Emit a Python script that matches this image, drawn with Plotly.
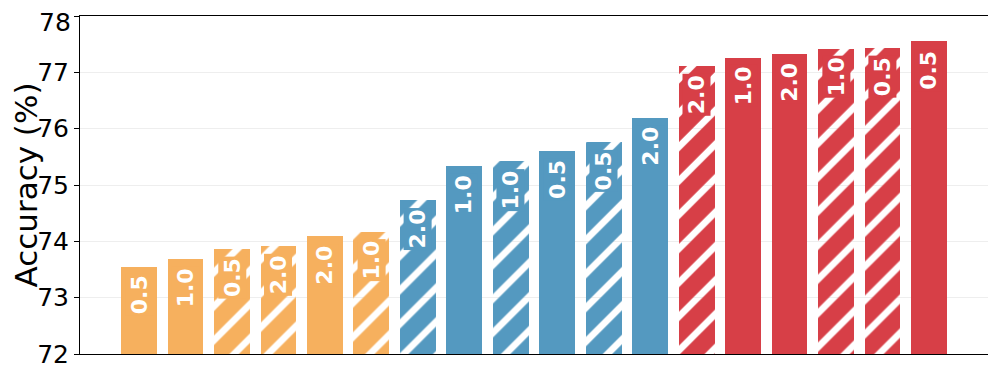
import plotly.graph_objects as go

# bar heights, left to right
accuracy = [73.55, 73.68, 73.87, 73.91, 74.09, 74.17,
            74.73, 75.33, 75.42, 75.60, 75.76, 76.19,
            77.11, 77.26, 77.33, 77.42, 77.43, 77.55]
labels = ["0.5", "1.0", "0.5", "2.0", "2.0", "1.0",
          "2.0", "1.0", "1.0", "0.5", "0.5", "2.0",
          "2.0", "1.0", "2.0", "1.0", "0.5", "0.5"]
hatched = [False, False, True, True, False, True,
           True, False, True, False, True, False,
           True, False, False, True, True, False]
group = ["a"] * 6 + ["b"] * 6 + ["c"] * 6
yticks = [72, 73, 74, 75, 76, 77, 78]

palette = {"a": "#F6B05E", "b": "#5499C0", "c": "#D73F47"}
colors = [palette[g] for g in group]
x = list(range(len(accuracy)))

fig = go.Figure()
# hatch: coloured diagonal bands on white leave thin white stripes
fig.add_trace(go.Bar(
    x=x, y=[a - 72 for a in accuracy], base=72,
    width=0.77,
    marker=dict(
        color=colors,
        line=dict(width=0),
        pattern=dict(
            shape=["/" if h else "" for h in hatched],
            fgcolor=colors, bgcolor="white",
            size=24, solidity=0.72, fillmode="replace",
        ),
    ),
    showlegend=False, hoverinfo="skip",
))

for xi, a, lab, c in zip(x, accuracy, labels, colors):
    fig.add_annotation(
        x=xi, y=a, text=f"<b>{lab}</b>", showarrow=False,
        textangle=-90, yanchor="top", yshift=-7,
        bgcolor=c, borderpad=1,
        font=dict(family="DejaVu Sans", size=22, color="white"),
    )

# top tick label drawn as annotation so it is not dropped at the page edge
fig.add_annotation(x=0, xref="paper", y=yticks[-1], yref="y", text=str(yticks[-1]),
                   showarrow=False, xanchor="right", xshift=-7, yshift=-6,
                   font=dict(family="DejaVu Sans", size=25, color="black"))

fig.update_xaxes(range=[-1.27, 18.27], showticklabels=False, ticks="",
                 showgrid=False, zeroline=False, automargin=False,
                 showline=True, linecolor="black", linewidth=1, mirror=True)
fig.update_yaxes(range=[72, 78], tickvals=yticks,
                 ticktext=[str(t) for t in yticks[:-1]] + [""],
                 ticks="outside", ticklen=5,
                 tickcolor="black", showgrid=True, gridcolor="#EEEEEE",
                 zeroline=False, showline=True, linecolor="black",
                 linewidth=1, mirror=True, automargin=False,
                 tickfont=dict(family="DejaVu Sans", size=25, color="black"),
                 title=dict(text="Accuracy (%)", standoff=8,
                            font=dict(family="DejaVu Sans", size=31, color="black")))
fig.update_layout(width=988, height=369, margin=dict(l=72, r=8, t=8, b=23),
                  plot_bgcolor="white", paper_bgcolor="white", bargap=0)

fig.write_html("out.html")
